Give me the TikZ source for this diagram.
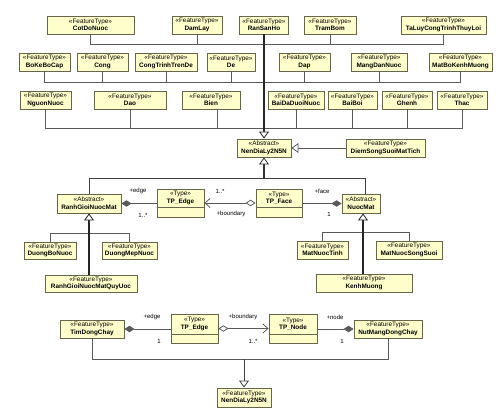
\documentclass[tikz,border=0pt]{standalone}
\usepackage{fontspec}
\setmainfont{Liberation Sans}
\usetikzlibrary{arrows.meta}
\definecolor{boxfill}{HTML}{FFFFCC}
\definecolor{boxline}{HTML}{66664A}
\definecolor{conncol}{HTML}{5A5A5A}
\newcommand{\FTT}[1]{«FeatureType»\\\textbf{#1}}
\newcommand{\ABS}[1]{«Abstract»\\\textbf{#1}}
\newcommand{\TYP}[1]{«Type»\\\textbf{#1}}
\tikzset{
  cls/.style={draw=boxline, fill=boxfill, line width=0.9pt, inner sep=0pt, align=center,
    font=\fontsize{6.4}{7.6}\selectfont},
  txt/.style={inner sep=0pt, align=center, font=\fontsize{6.4}{7.6}\selectfont},
  lbl/.style={inner sep=0pt, font=\fontsize{6}{7}\selectfont},
  conn/.style={draw=conncol, line width=0.8pt},
  trunk/.style={draw=black!85, line width=1.7pt},
  gen/.style={-{Triangle[fill=white, length=7pt, width=10pt, line width=0.8pt]}},
  comp/.style={{Diamond[length=10pt, width=6.5pt]}-},
  aggr/.style={{Diamond[fill=white, length=10pt, width=6.5pt, line width=0.8pt]}-{Straight Barb[length=5pt, width=9pt, line width=0.8pt]}},
  sepline/.style={draw=boxline, line width=0.9pt}
}
\begin{document}
\begin{tikzpicture}[x=1pt,y=-1pt]
\useasboundingbox (0,0) rectangle (500,415);
% ---- row 1
\node[cls, minimum width=87pt, minimum height=18pt] (cot) at (90.5,25) {\FTT{CotDoNuoc}};
\node[cls, minimum width=50pt, minimum height=18pt] (dam) at (197,25) {\FTT{DamLay}};
\node[cls, minimum width=49pt, minimum height=18pt] (ran) at (264,25) {\FTT{RanSanHo}};
\node[cls, minimum width=52pt, minimum height=18pt] (tram) at (330,25) {\FTT{TramBom}};
\node[cls, minimum width=85pt, minimum height=18pt] (taluy) at (443.5,25) {\FTT{TaLuyCongTrinhThuyLoi}};
% ---- row 2
\node[cls, minimum width=51pt, minimum height=18pt] (boke) at (44.5,62) {\FTT{BoKeBoCap}};
\node[cls, minimum width=51pt, minimum height=18pt] (cong) at (102.5,62) {\FTT{Cong}};
\node[cls, minimum width=62pt, minimum height=18pt] (ctd) at (166,62) {\FTT{CongTrinhTrenDe}};
\node[cls, minimum width=48pt, minimum height=18pt] (de) at (231,62) {\FTT{De}};
\node[cls, minimum width=51pt, minimum height=18pt] (dap) at (304.5,62) {\FTT{Dap}};
\node[cls, minimum width=56pt, minimum height=18pt] (mdn) at (379,62) {\FTT{MangDanNuoc}};
\node[cls, minimum width=63pt, minimum height=18pt] (mbk) at (460.5,62) {\FTT{MatBoKenhMuong}};
% ---- row 3
\node[cls, minimum width=51pt, minimum height=18pt] (nguon) at (45.5,100) {\FTT{NguonNuoc}};
\node[cls, minimum width=72pt, minimum height=18pt] (dao) at (130,100) {\FTT{Dao}};
\node[cls, minimum width=58pt, minimum height=18pt] (bien) at (211,100) {\FTT{Bien}};
\node[cls, minimum width=56pt, minimum height=18pt] (baida) at (296,100) {\FTT{BaiDaDuoiNuoc}};
\node[cls, minimum width=49pt, minimum height=18pt] (baiboi) at (352.5,100) {\FTT{BaiBoi}};
\node[cls, minimum width=50pt, minimum height=18pt] (ghenh) at (407,100) {\FTT{Ghenh}};
\node[cls, minimum width=50pt, minimum height=18pt] (thac) at (462,100) {\FTT{Thac}};
% ---- middle
\node[cls, minimum width=54pt, minimum height=18pt] (nendia) at (264,148) {\ABS{NenDiaLy2N5N}};
\node[cls, minimum width=79pt, minimum height=18pt] (diem) at (385.5,148) {\FTT{DiemSongSuoiMatTich}};
\node[cls, minimum width=64pt, minimum height=19pt] (rgnm) at (89,203.5) {\ABS{RanhGioiNuocMat}};
\node[cls, minimum width=47pt, minimum height=28pt] (e1) at (180.5,203) {};
\node[txt] (e1t) at ([yshift=5pt]e1.center) {\TYP{TP\_Edge}};
\draw[sepline] ([yshift=-4pt]e1.west) -- ([yshift=-4pt]e1.east);
\node[cls, minimum width=46pt, minimum height=28pt] (face) at (279,203) {};
\node[txt] (facet) at ([yshift=5pt]face.center) {\TYP{TP\_Face}};
\draw[sepline] ([yshift=-4pt]face.west) -- ([yshift=-4pt]face.east);
\node[cls, minimum width=38pt, minimum height=19pt] (nuoc) at (361,203.5) {\ABS{NuocMat}};
% children of RanhGioiNuocMat
\node[cls, minimum width=52pt, minimum height=17pt] (dbn) at (50,250.5) {\FTT{DuongBoNuoc}};
\node[cls, minimum width=55pt, minimum height=17pt] (dmn) at (129.5,250.5) {\FTT{DuongMepNuoc}};
\node[cls, minimum width=92pt, minimum height=17pt] (quy) at (91,283.5) {\FTT{RanhGioiNuocMatQuyUoc}};
% children of NuocMat
\node[cls, minimum width=51pt, minimum height=18pt] (mnt) at (322.5,250) {\FTT{MatNuocTinh}};
\node[cls, minimum width=66pt, minimum height=18pt] (mnss) at (409,250) {\FTT{MatNuocSongSuoi}};
\node[cls, minimum width=96pt, minimum height=18pt] (kenh) at (364,283) {\FTT{KenhMuong}};
% ---- bottom
\node[cls, minimum width=64pt, minimum height=18pt] (tim) at (92,329) {\FTT{TimDongChay}};
\node[cls, minimum width=47pt, minimum height=29pt] (e2) at (194.5,328.5) {};
\node[txt] (e2t) at ([yshift=4.5pt]e2.center) {\TYP{TP\_Edge}};
\draw[sepline] ([yshift=-5.5pt]e2.west) -- ([yshift=-5.5pt]e2.east);
\node[cls, minimum width=48pt, minimum height=29pt] (tpn) at (293,328.5) {};
\node[txt] (tpnt) at ([yshift=4.5pt]tpn.center) {\TYP{TP\_Node}};
\draw[sepline] ([yshift=-5.5pt]tpn.west) -- ([yshift=-5.5pt]tpn.east);
\node[cls, minimum width=68pt, minimum height=18pt] (nut) at (388,329) {\FTT{NutMangDongChay}};
\node[cls, minimum width=54pt, minimum height=19pt] (nen2) at (244,397.5) {\FTT{NenDiaLy2N5N}};
% ---- generalisation tree (top)
\coordinate (j1) at (264,44);
\coordinate (j2) at (264,82);
\coordinate (j3) at (264,128);
\foreach \n in {cot,dam,tram,taluy} \draw[conn] (\n.south) |- (j1);
\foreach \n in {boke,cong,ctd,de,dap,mdn,mbk} \draw[conn] (\n.south) |- (j2);
\foreach \n in {nguon,dao,baida,baiboi,ghenh,thac} \draw[conn] (\n.south) |- (j3);
\draw[conn] ([xshift=6pt]bien.south) |- (j3);
\draw[trunk, gen] (ran.south) -- (nendia.north);
\draw[conn, gen] (diem.west) -- (nendia.east);
% NenDiaLy -> RanhGioiNuocMat, NuocMat
\coordinate (g1) at (264,178);
\draw[conn, draw=black!75, line width=1pt] (g1) -| (rgnm.north);
\draw[conn, draw=black!75, line width=1pt] (g1) -| ([xshift=4pt]nuoc.north);
\draw[conn, draw=black!80, line width=1.2pt, gen] (g1) -- (nendia.south);
% RanhGioiNuocMat children
\coordinate (g2) at (89,233);
\draw[conn] (dbn.north) |- (g2);
\draw[conn] (dmn.north) |- (g2);
\draw[trunk, gen] (quy.north -| rgnm.south) -- (rgnm.south);
% NuocMat children
\coordinate (g3) at (363,232);
\draw[conn] (mnt.north) |- (g3);
\draw[conn] (mnss.north) |- (g3);
\draw[trunk, gen] (kenh.north -| g3) -- (g3 |- nuoc.south);
% associations (middle)
\draw[conn, comp] (rgnm.east) -- (rgnm.east -| e1.west);
\draw[conn, aggr] (face.west) -- (e1.east);
\draw[conn, {Diamond[length=10pt, width=6.5pt]}-] (nuoc.west) -- (nuoc.west -| face.east);
\node[lbl] (l1) at (138,191) {+edge};
\node[lbl] (l2) at (143,215) {1..*};
\node[lbl] (l3) at (220,191) {1..*};
\node[lbl] (l4) at (231,214) {+boundary};
\node[lbl] (l5) at (322,191) {+face};
\node[lbl] (l6) at (329,214) {1};
% ---- bottom associations
\draw[conn, comp] (tim.east) -- (tim.east -| e2.west);
\draw[conn, aggr] (e2.east) -- (tpn.west);
\draw[conn, {Diamond[length=10pt, width=6.5pt]}-] (nut.west) -- (nut.west -| tpn.east);
\node[lbl] (l7) at (152,317) {+edge};
\node[lbl] (l8) at (159,341) {1};
\node[lbl] (l9) at (243,317) {+boundary};
\node[lbl] (l10) at (253,341) {1..*};
\node[lbl] (l11) at (335,317) {+node};
\node[lbl] (l12) at (342,341) {1};
% bottom generalisation
\coordinate (m1) at (244,359);
\draw[conn] (tim.south) |- (m1);
\draw[conn] (nut.south) |- (m1);
\draw[conn, draw=black!75, line width=1pt, gen] (m1) -- (nen2.north);
\end{tikzpicture}
\end{document}
